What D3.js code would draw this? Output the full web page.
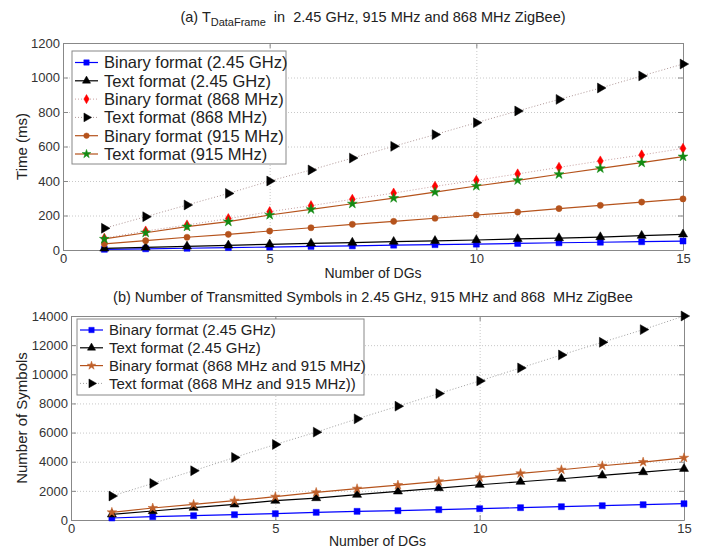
<!DOCTYPE html>
<html>
<head>
<meta charset="utf-8">
<script src="https://cdn.jsdelivr.net/npm/d3@7"></script>
<style>
  body { margin: 0; background: #fff; }
  svg text { font-family: "Liberation Sans", Arial, sans-serif; fill: #222; white-space: pre; }
  .tick text { font-size: 13px; fill: #333; }
  .box line, .box path { stroke: #888; }
  .grid line { stroke: #c8c8c8; stroke-dasharray: 1,2; }
  .grid path { display: none; }
</style>
</head>
<body>
<div id="chart"></div>
<script>
// 1: DATA
const dgs = [1, 2, 3, 4, 5, 6, 7, 8, 9, 10, 11, 12, 13, 14, 15];

// (a) time in ms
const binary245 = [4, 7, 10, 14, 17, 21, 24, 28, 31, 34, 38, 42, 45, 48, 52];
const text245 = [9, 15, 21, 27, 33, 38, 43, 48, 53, 58, 64, 69, 75, 83, 91];
const binary868 = [68, 110, 145, 182, 222, 257, 294, 330, 369, 404, 441, 479, 516, 551, 589];
const text868 = [126, 193, 261, 328, 400, 464, 533, 601, 669, 738, 806, 873, 939, 1009, 1078];
const binary915 = [35, 54, 74, 91, 110, 129, 149, 166, 184, 203, 220, 240, 259, 278, 296];
const text915 = [64, 100, 135, 164, 203, 236, 268, 301, 336, 371, 404, 439, 473, 506, 541];

// (b) number of symbols
const symBinary245 = [137, 228, 297, 365, 434, 525, 594, 639, 708, 776, 845, 913, 982, 1050, 1119];
const symText245 = [388, 616, 845, 1073, 1324, 1507, 1735, 1963, 2192, 2420, 2626, 2832, 3060, 3289, 3517];
const symBinary868915 = [525, 822, 1073, 1324, 1599, 1896, 2147, 2398, 2649, 2923, 3197, 3449, 3723, 3975, 4270];
const symText868915 = [1644, 2511, 3380, 4292, 5183, 6030, 6941, 7811, 8676, 9546, 10437, 11328, 12197, 13065, 14000];

const xTicks = [0, 5, 10, 15];
const yTicksA = [0, 200, 400, 600, 800, 1000, 1200];
const yTicksB = [0, 2000, 4000, 6000, 8000, 10000, 12000, 14000];

const brown = "#b5531c";
const dotted = "1,2";

const svg = d3.select("#chart").append("svg")
    .attr("width", 702)
    .attr("height", 550);

// marker shapes
function marker(type, size) {
    if (type === "right") {
        return d3.symbol().type(d3.symbolTriangle).size(size)();
    }
    return d3.symbol().type(type).size(size)();
}
const rotFor = type => type === "right" ? 90 : 0;

// 2: one panel
function drawPanel(box, yMax, yTicks, series, legendBox, yLabel, xLabelY) {
    const w = box.x1 - box.x0;
    const h = box.y1 - box.y0;
    const g = svg.append("g").attr("transform", `translate(${box.x0},${box.y0})`);

    const x = d3.scaleLinear().domain([0, 15]).range([0, w]);
    const y = d3.scaleLinear().domain([0, yMax]).range([h, 0]);

    // grid
    g.append("g").attr("class", "grid")
        .attr("transform", `translate(0,${h})`)
        .call(d3.axisBottom(x).tickValues(xTicks.slice(1, -1)).tickSize(-h).tickFormat(""));
    g.append("g").attr("class", "grid")
        .call(d3.axisLeft(y).tickValues(yTicks.slice(1, -1)).tickSize(-w).tickFormat(""));

    // axes (box)
    g.append("g").attr("class", "box")
        .attr("transform", `translate(0,${h})`)
        .call(d3.axisBottom(x).tickValues(xTicks).tickSizeInner(-5).tickSizeOuter(0).tickPadding(4)
            .tickFormat(d3.format("d")));
    g.append("g").attr("class", "box")
        .call(d3.axisLeft(y).tickValues(yTicks).tickSizeInner(-5).tickSizeOuter(0).tickPadding(3)
            .tickFormat(d3.format("d")));
    g.append("g").attr("class", "box")
        .call(d3.axisTop(x).tickValues(xTicks).tickSizeInner(-5).tickSizeOuter(0).tickFormat(""));
    g.append("g").attr("class", "box")
        .attr("transform", `translate(${w},0)`)
        .call(d3.axisRight(y).tickValues(yTicks).tickSizeInner(-5).tickSizeOuter(0).tickFormat(""));

    // lines + markers
    series.forEach(s => {
        const pts = dgs.map((d, i) => ({ x: d, y: s.values[i] }));
        g.append("path")
            .datum(pts)
            .attr("d", d3.line().x(d => x(d.x)).y(d => y(d.y)))
            .attr("fill", "none")
            .attr("stroke", s.line)
            .attr("stroke-width", s.dash ? 1 : 1.2)
            .attr("stroke-dasharray", s.dash ? dotted : null);
        g.selectAll(null)
            .data(pts)
            .enter()
            .append("path")
            .attr("d", marker(s.shape, s.size))
            .attr("transform", d => `translate(${x(d.x)},${y(d.y)}) rotate(${rotFor(s.shape)})`)
            .attr("fill", s.color)
            .attr("stroke", s.color)
            .attr("stroke-width", 0.5);
    });

    // legend
    const lg = svg.append("g").attr("transform", `translate(${legendBox.x},${legendBox.y})`);
    lg.append("rect")
        .attr("width", legendBox.w)
        .attr("height", legendBox.h)
        .attr("fill", "#fff")
        .attr("stroke", "#888");
    series.forEach((s, i) => {
        const cy = legendBox.pad + i * legendBox.step;
        lg.append("line")
            .attr("x1", 3).attr("x2", 26)
            .attr("y1", cy).attr("y2", cy)
            .attr("stroke", s.line)
            .attr("stroke-width", s.dash ? 1 : 1.2)
            .attr("stroke-dasharray", s.dash ? dotted : null);
        lg.append("path")
            .attr("d", marker(s.shape, s.size * 0.8))
            .attr("transform", `translate(14.5,${cy}) rotate(${rotFor(s.shape)})`)
            .attr("fill", s.color)
            .attr("stroke", s.color)
            .attr("stroke-width", 0.5);
        lg.append("text")
            .attr("x", 32)
            .attr("y", cy + legendBox.font * 0.36)
            .style("font-size", legendBox.font + "px")
            .text(s.name);
    });

    // labels
    svg.append("text")
        .attr("transform", `translate(27,${(box.y0 + box.y1) / 2}) rotate(-90)`)
        .attr("text-anchor", "middle")
        .style("font-size", "15px")
        .text(yLabel);

    svg.append("text")
        .attr("x", (box.x0 + box.x1) / 2)
        .attr("y", xLabelY)
        .attr("text-anchor", "middle")
        .style("font-size", "14px")
        .text("Number of DGs");
}

// 3: PANEL (a)
drawPanel(
    { x0: 63, x1: 683, y0: 43, y1: 250 },
    1200, yTicksA,
    [
        { name: "Binary format (2.45 GHz)", values: binary245, color: "#0000ff", line: "#0000ff", shape: d3.symbolSquare, size: 36 },
        { name: "Text format (2.45 GHz)", values: text245, color: "#000", line: "#000", shape: d3.symbolTriangle, size: 36 },
        { name: "Binary format (868 MHz)", values: binary868, color: "#ff0000", line: "#c8a0a0", shape: d3.symbolDiamond, size: 30, dash: true },
        { name: "Text format (868 MHz)", values: text868, color: "#000", line: "#b09898", shape: "right", size: 42, dash: true },
        { name: "Binary format (915 MHz)", values: binary915, color: brown, line: brown, shape: d3.symbolCircle, size: 30 },
        { name: "Text format (915 MHz)", values: text915, color: "#138a13", line: brown, shape: d3.symbolStar, size: 30 }
    ],
    { x: 72, y: 51, w: 214, h: 113, pad: 11.5, step: 18.3, font: 16.5 },
    "Time (ms)", 278
);

// 4: PANEL (b)
drawPanel(
    { x0: 71, x1: 684, y0: 316, y1: 520 },
    14000, yTicksB,
    [
        { name: "Binary format (2.45 GHz)", values: symBinary245, color: "#0000ff", line: "#0000ff", shape: d3.symbolSquare, size: 36 },
        { name: "Text format (2.45 GHz)", values: symText245, color: "#000", line: "#000", shape: d3.symbolTriangle, size: 36 },
        { name: "Binary format (868 MHz and 915 MHz)", values: symBinary868915, color: "#c0602a", line: brown, shape: d3.symbolStar, size: 28 },
        { name: "Text format (868 MHz and 915 MHz))", values: symText868915, color: "#000", line: "#a0a0a0", shape: "right", size: 42, dash: true }
    ],
    { x: 77, y: 319, w: 287, h: 76, pad: 11, step: 17.8, font: 15 },
    "Number of Symbols", 546
);

// titles
const titleA = svg.append("text")
    .attr("x", 373)
    .attr("y", 22)
    .attr("text-anchor", "middle")
    .style("font-size", "14.5px");
titleA.append("tspan").text("(a) T");
titleA.append("tspan").attr("dy", 4).style("font-size", "11px").text("DataFrame");
titleA.append("tspan").attr("dy", -4).text("  in  2.45 GHz, 915 MHz and 868 MHz ZigBee)");

svg.append("text")
    .attr("x", 373)
    .attr("y", 302)
    .attr("text-anchor", "middle")
    .style("font-size", "14.5px")
    .text("(b) Number of Transmitted Symbols in 2.45 GHz, 915 MHz and 868  MHz ZigBee");
</script>
</body>
</html>
